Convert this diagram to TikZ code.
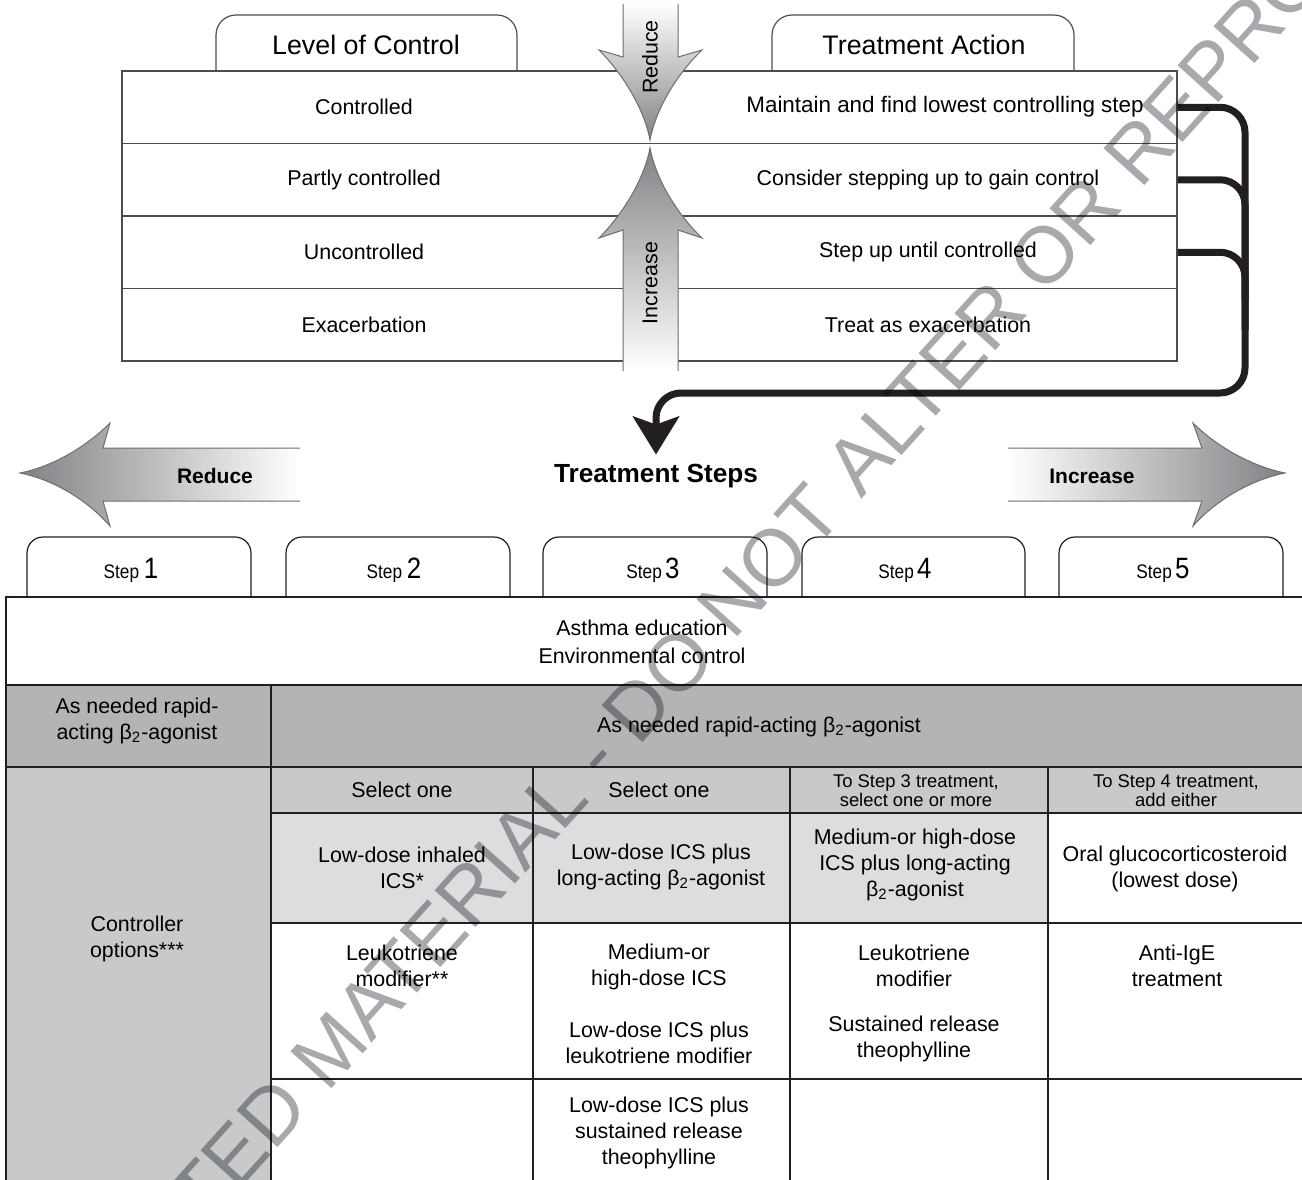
\documentclass[tikz,border=0pt]{standalone}
\usepackage{fontspec}
\setmainfont{Liberation Sans}
\newfontfamily\narrowsans{Liberation Sans}[FakeStretch=0.88]
\usetikzlibrary{arrows.meta,fit}
\definecolor{ink}{HTML}{231F20}
\definecolor{rulegray}{HTML}{4D4D4F}
\definecolor{darkcell}{HTML}{B3B4B6}
\definecolor{midcell}{HTML}{C8C9CB}
\definecolor{lightcell}{HTML}{DCDDDF}
\definecolor{tipgray}{HTML}{808285}
\definecolor{shaftline}{HTML}{6D6E70}
\definecolor{wmgray}{HTML}{A7A9AC}
\tikzset{
  body/.style={font=\fontsize{10.7}{13}\selectfont, align=center, inner sep=0pt},
  smalltxt/.style={font=\fontsize{9.2}{9.6}\selectfont, align=center, inner sep=0pt},
  tabtext/.style={font=\fontsize{13.4}{16}\selectfont, inner sep=0pt},
  boldlbl/.style={font=\bfseries\fontsize{10.5}{12}\selectfont, inner sep=0pt},
  titletxt/.style={font=\bfseries\fontsize{13.1}{15}\selectfont, inner xsep=0pt, inner ysep=4.6pt},
  steplbl/.style={font=\narrowsans, inner sep=0pt},
  tabline/.style={draw=rulegray, line width=0.6pt, rounded corners=10pt},
  steptab/.style={draw=ink, line width=0.6pt, rounded corners=8pt},
  toprow/.style={draw=rulegray, line width=0.6pt, inner sep=0pt},
  gridline/.style={draw=ink, line width=0.75pt},
  arrowline/.style={draw=shaftline, line width=0.5pt},
  bracket/.style={draw=ink, line width=3.5pt, rounded corners=12.5pt},
  wm/.style={font=\fontsize{40}{42}\selectfont, text=wmgray, inner sep=0pt}
}
\begin{document}
\begin{tikzpicture}[x=0.5pt,y=-0.5pt]
\useasboundingbox (0,0) rectangle (1302,1179);
\fill[white] (0,0) rectangle (1302,1179);

% ---------- top tabs
\draw[tabline] (216,71) -- (216,15) -- (517,15) -- (517,71);
\draw[tabline] (772,71) -- (772,15) -- (1074,15) -- (1074,71);
\node[tabtext] (loc) at (366,45) {Level of Control};
\node[tabtext] (tact) at (924,45) {Treatment Action};

% ---------- top table rows
\node[toprow, fit={(122,71) (1177,143.5)}] (row1) {};
\node[toprow, fit={(122,143.5) (1177,216)}] (row2) {};
\node[toprow, fit={(122,216) (1177,288.5)}] (row3) {};
\node[toprow, fit={(122,288.5) (1177,361)}] (row4) {};

\node[body] (l1) at (364,107) {Controlled};
\node[body] (l2) at (364,180) {Partly controlled};
\node[body] (l3) at (364,252) {Uncontrolled};
\node[body] (l4) at (364,325) {Exacerbation};
\node[body, font=\fontsize{11.2}{13}\selectfont] (a1) at (945,107) {Maintain and find lowest controlling step};
\node[body] (a2) at (928,180) {Consider stepping up to gain control};
\node[body] (a3) at (928,252) {Step up until controlled};
\node[body] (a4) at (928,325) {Treat as exacerbation};

% ---------- vertical arrows
\shade[top color=white, bottom color=tipgray]
  (623,4) -- (623,57) -- (599,50) .. controls (622,73) and (644,108) .. (650,140)
  .. controls (656,108) and (678,73) .. (702,50) -- (678,57) -- (678,4) -- cycle;
\draw[arrowline]
  (623,4) -- (623,57) -- (599,50) .. controls (622,73) and (644,108) .. (650,140)
  .. controls (656,108) and (678,73) .. (702,50) -- (678,57) -- (678,4);
\shade[top color=tipgray, bottom color=white]
  (623,371) -- (623,230) -- (599,238) .. controls (622,215) and (644,180) .. (650,148)
  .. controls (656,180) and (678,215) .. (702,238) -- (678,230) -- (678,371) -- cycle;
\draw[arrowline]
  (623,371) -- (623,230) -- (599,238) .. controls (622,215) and (644,180) .. (650,148)
  .. controls (656,180) and (678,215) .. (702,238) -- (678,230) -- (678,371);
\node[body, rotate=90] (vred) at (650,57) {Reduce};
\node[body, rotate=90] (vinc) at (650,283) {Increase};

% ---------- horizontal arrows
\shade[left color=tipgray, right color=white]
  (300,448) -- (103,448) -- (110,423) .. controls (88,445) and (55,466) .. (20,473)
  .. controls (55,480) and (88,501) .. (110,526) -- (103,501) -- (300,501) -- cycle;
\draw[arrowline]
  (300,448) -- (103,448) -- (110,423) .. controls (88,445) and (55,466) .. (20,473)
  .. controls (55,480) and (88,501) .. (110,526) -- (103,501) -- (300,501);
\shade[left color=white, right color=tipgray]
  (1008,448) -- (1202,448) -- (1193,423) .. controls (1215,445) and (1250,466) .. (1285,473)
  .. controls (1250,480) and (1215,501) .. (1193,526) -- (1202,501) -- (1008,501) -- cycle;
\draw[arrowline]
  (1008,448) -- (1202,448) -- (1193,423) .. controls (1215,445) and (1250,466) .. (1285,473)
  .. controls (1250,480) and (1215,501) .. (1193,526) -- (1202,501) -- (1008,501);
\node[boldlbl] (hred) at (215,476) {Reduce};
\node[boldlbl] (hinc) at (1092,476) {Increase};
\node[titletxt] (ts) at (656,476) {Treatment Steps};

% ---------- bracket connectors
\draw[bracket] (row2.east) -| (1245,300);
\draw[bracket] (row3.east) -| (1245,330);
\draw[bracket, -{Stealth[length=19pt,width=23pt,inset=4pt]}] (row1.east) -| (1245,393) -| (ts.north);

% ---------- lower table
\fill[darkcell] (6,685) rectangle (1310,767);
\fill[midcell] (6,767) rectangle (271,1185);
\fill[midcell] (271,767) rectangle (1310,813);
\fill[lightcell] (271,813) rectangle (1048,923);
\draw[gridline] (6,1185) -- (6,597) -- (1310,597);
\draw[gridline] (6,685) -- (1310,685);
\draw[gridline] (6,767) -- (1310,767);
\draw[gridline] (271,813) -- (1310,813);
\draw[gridline] (271,923) -- (1310,923);
\draw[gridline] (271,1079) -- (1310,1079);
\draw[gridline] (271,685) -- (271,1185);
\foreach \xx in {533,790,1048} \draw[gridline] (\xx,767) -- (\xx,1185);

% ---------- step tabs
\foreach \xa/\xb in {27/251, 286/510, 543/767, 802/1025, 1059/1283}
  \draw[steptab] (\xa,597) -- (\xa,537) -- (\xb,537) -- (\xb,597);
\node[steplbl] (st1) at (131,570) {{\fontsize{9.8}{10}\selectfont Step} {\fontsize{14.7}{15}\selectfont 1}};
\node[steplbl] (st2) at (394,570) {{\fontsize{9.8}{10}\selectfont Step} {\fontsize{14.7}{15}\selectfont 2}};
\node[steplbl] (st3) at (653,570) {{\fontsize{9.8}{10}\selectfont Step}\,{\fontsize{14.7}{15}\selectfont 3}};
\node[steplbl] (st4) at (905,570) {{\fontsize{9.8}{10}\selectfont Step}\,{\fontsize{14.7}{15}\selectfont 4}};
\node[steplbl] (st5) at (1163,570) {{\fontsize{9.8}{10}\selectfont Step}\,{\fontsize{14.7}{15}\selectfont 5}};

% ---------- table texts
\node[body, font=\fontsize{10.7}{14}\selectfont] (edu) at (642,642) {Asthma education\\Environmental control};
\node[body] (rel1) at (137,721) {As needed rapid-\\acting β\textsubscript{2}-agonist};
\node[body] (rel2) at (759,727) {As needed rapid-acting β\textsubscript{2}-agonist};
\node[body] (co) at (137,939) {Controller\\options***};

\node[body] (h2) at (402,790) {Select one};
\node[body] (h3) at (659,790) {Select one};
\node[smalltxt] (h4) at (916,791) {To Step 3 treatment,\\select one or more};
\node[smalltxt] (h5) at (1176,791) {To Step 4 treatment,\\add either};

\node[body] (c22) at (402,868) {Low-dose inhaled\\ICS*};
\node[body] (c23) at (661,867) {Low-dose ICS plus\\long-acting β\textsubscript{2}-agonist};
\node[body] (c24) at (915,865) {Medium-or high-dose\\ICS plus long-acting\\β\textsubscript{2}-agonist};
\node[body] (c25) at (1175,869) {Oral glucocorticosteroid\\(lowest dose)};

\node[body] (c32) at (402,966) {Leukotriene\\modifier**};
\node[body] (c33a) at (659,967) {Medium-or\\high-dose ICS};
\node[body] (c33b) at (659,1043) {Low-dose ICS plus\\leukotriene modifier};
\node[body] (c34a) at (914,966) {Leukotriene\\modifier};
\node[body] (c34b) at (914,1039) {Sustained release\\theophylline};
\node[body] (c35) at (1177,966) {Anti-IgE\\treatment};
\node[body] (c43) at (659,1133) {Low-dose ICS plus\\sustained release\\theophylline};

% ---------- watermark
\begin{scope}[blend mode=multiply]
\node[wm, rotate=48, anchor=base west] (wmark) at (-30,1490)
  {RESTRICTED MATERIAL - DO NOT ALTER OR REPRODUCE};
\end{scope}
\end{tikzpicture}
\end{document}
